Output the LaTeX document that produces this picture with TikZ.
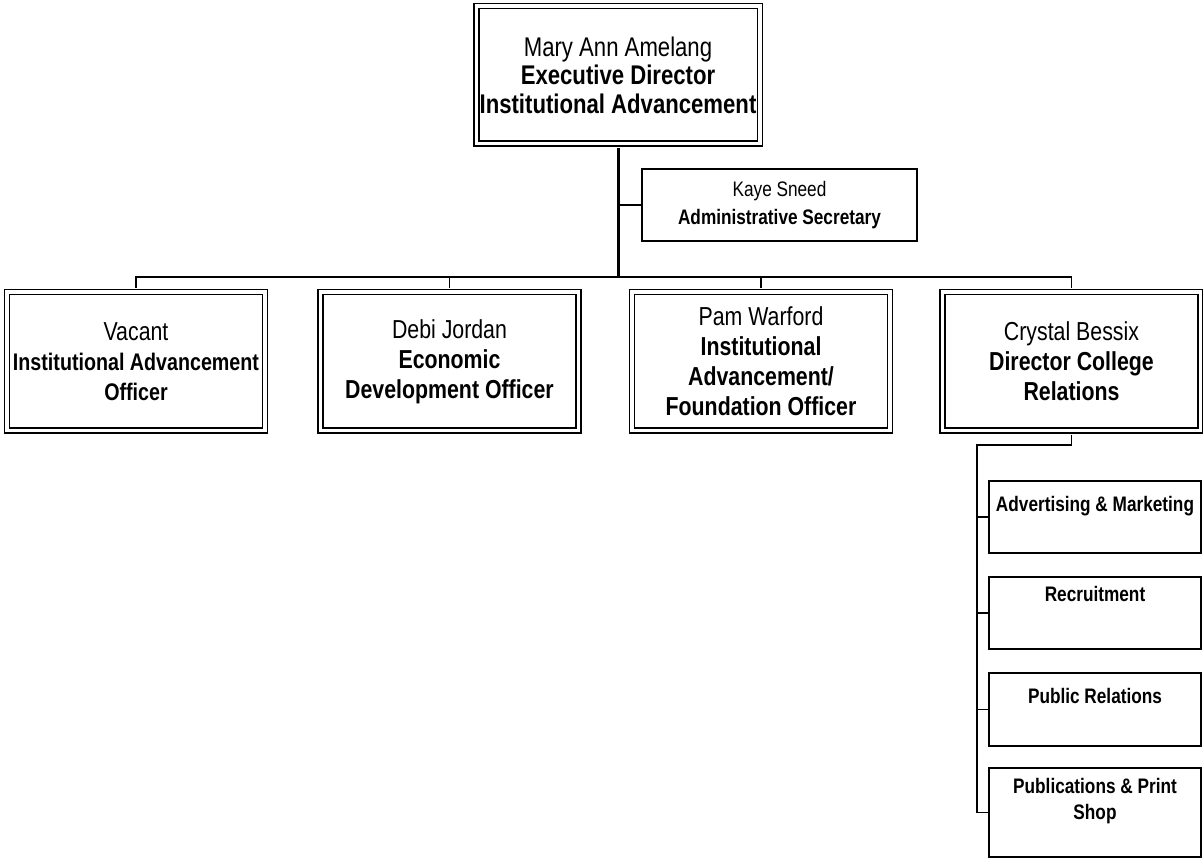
\documentclass[tikz,border=0pt]{standalone}
\usepackage{fontspec}
\setmainfont{Liberation Sans}[FakeStretch=0.82]
\usetikzlibrary{positioning, calc}
\newcommand{\toptext}[3]{\parbox[c][#1][t]{210pt}{\centering\rule{0pt}{#2}#3}}
\tikzset{
  box/.style={draw, line width=1.5pt, inner sep=0pt, align=center},
  dbox/.style={box, double, double distance=3.5pt},
  chief/.style={dbox, minimum width=283.5pt, minimum height=137.5pt, font=\fontsize{27}{28.5}\selectfont},
  officer/.style={dbox, minimum width=258pt, minimum height=138.5pt, font=\fontsize{26}{30}\selectfont},
  aide/.style={box, line width=1.5pt, minimum width=275pt, minimum height=72pt, font=\fontsize{21}{28}\selectfont},
  unit/.style={box, line width=1.5pt, minimum width=212pt, font=\fontsize{21}{26.5}\selectfont\bfseries},
  trunk/.style={line width=3pt},
  link/.style={line width=1.8pt},
}

\begin{document}
\begin{tikzpicture}[x=1pt, y=-1pt]
  \useasboundingbox (0,0) rectangle (1203,858);

  \node[chief] (dir) at (618,75) {Mary Ann Amelang\\\textbf{Executive Director}\\\textbf{Institutional Advancement}};
  \node[aide] (sec) at (779.5,205) {Kaye Sneed\\\textbf{Administrative Secretary}};

  \node[officer] (vac) at (136,361.5) {Vacant\\{\fontsize{24}{27.5}\selectfont\bfseries Institutional Advancement}\\{\fontsize{24}{27.5}\selectfont\bfseries Officer}};
  \node[officer] (deb) at (449.5,361.5) {Debi Jordan\\\textbf{Economic}\\\textbf{Development Officer}};
  \node[officer] (pam) at (761,361.5) {Pam Warford\\\textbf{Institutional}\\\textbf{Advancement/}\\\textbf{Foundation Officer}};
  \node[officer] (cb) at (1071.5,361.5) {Crystal Bessix\\\textbf{Director College}\\\textbf{Relations}};

  \node[unit] (adv) at (1095,517) {\toptext{72pt}{30pt}{Advertising \& Marketing}};
  \node[unit] (rec) at (1095,613) {\toptext{72pt}{25pt}{Recruitment}};
  \node[unit] (pr) at (1095,709.5) {\toptext{73pt}{30pt}{Public Relations}};
  \node[unit] (pub) at (1095,812.5) {\toptext{89pt}{25pt}{Publications \& Print\\Shop}};

  \coordinate (bar) at (617,277);
  \coordinate (spine) at (977,445);

  \draw[trunk, shorten <=3.25pt] (dir.south) -- (dir.south |- bar);
  \draw[link] (sec.west) -- (sec.west -| dir.south);
  \draw[link, shorten <=3.25pt, shorten >=3.25pt] (vac.north) |- (bar) -| (cb.north);
  \foreach \o in {deb, pam}
    \draw[link, shorten <=3.25pt] (\o.north) -- (\o.north |- bar);

  \draw[link, shorten <=3.25pt] (cb.south) |- (spine) -- (spine |- pub.west);
  \foreach \u in {adv, rec, pr, pub}
    \draw[link] (spine |- \u.west) -- (\u.west);
\end{tikzpicture}
\end{document}
